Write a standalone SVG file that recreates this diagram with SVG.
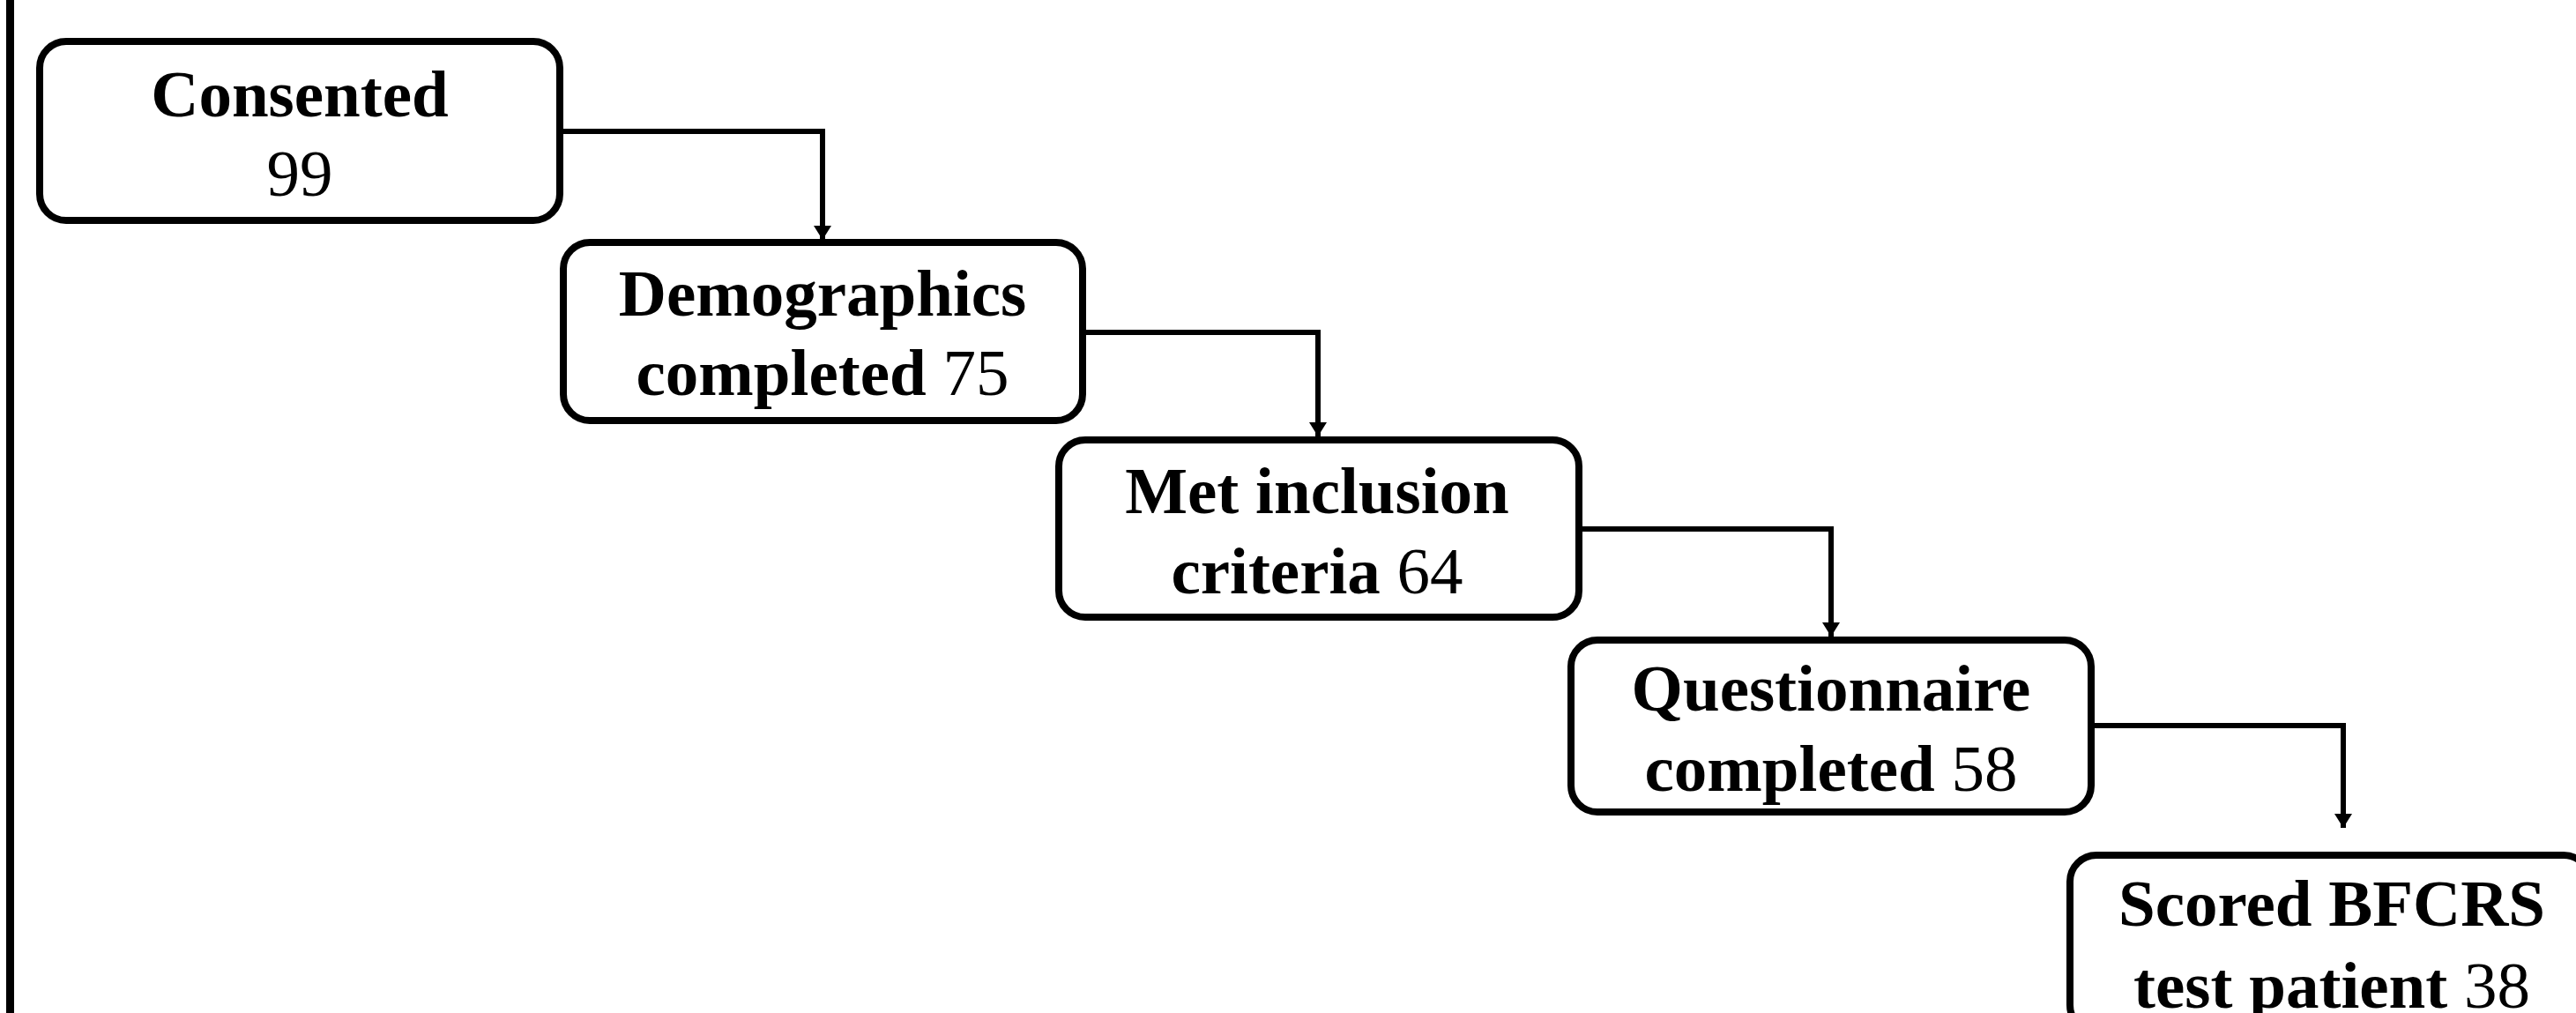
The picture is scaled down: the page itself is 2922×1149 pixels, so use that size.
<svg xmlns="http://www.w3.org/2000/svg" width="2922" height="1149" viewBox="0 0 2922 1149">
<style>
.box{fill:#fff;stroke:#000;stroke-width:8}
.t{font-family:"Liberation Serif","Times New Roman",serif;font-size:75px;text-anchor:middle;fill:#000}
.b{font-weight:bold}
.n{font-weight:normal}
.c{fill:none;stroke:#000;stroke-width:6}
</style>
<defs>
<marker id="arr" markerUnits="userSpaceOnUse" markerWidth="20" markerHeight="20" viewBox="0 0 16 20" refX="16" refY="10" orient="auto">
<path d="M0,0 L16,10 L0,20 Z" fill="#000"/>
</marker>
</defs>
<rect x="0" y="0" width="2922" height="1149" fill="#fff"/>
<line x1="11.5" y1="0" x2="11.5" y2="1149" stroke="#000" stroke-width="9"/>
<g id="connectors">
<path class="c" d="M639 149 H933 V272" marker-end="url(#arr)"/>
<path class="c" d="M1232 377 H1495 V495" marker-end="url(#arr)"/>
<path class="c" d="M1795 600 H2077 V722" marker-end="url(#arr)"/>
<path class="c" d="M2376 823 H2658 V939" marker-end="url(#arr)"/>
</g>
<g id="n1">
<rect class="box" x="45" y="47" width="590" height="203" rx="30"/>
<text class="t b" x="340" y="132">Consented</text>
<text class="t n" x="340" y="222">99</text>
</g>
<g id="n2">
<rect class="box" x="639" y="275" width="589" height="202" rx="30"/>
<text class="t b" x="933" y="358">Demographics</text>
<text class="t" x="933" y="448"><tspan class="b">completed </tspan><tspan class="n">75</tspan></text>
</g>
<g id="n3">
<rect class="box" x="1201" y="499" width="590" height="201" rx="30"/>
<text class="t b" x="1494" y="582">Met inclusion</text>
<text class="t" x="1494" y="673"><tspan class="b">criteria </tspan><tspan class="n">64</tspan></text>
</g>
<g id="n4">
<rect class="box" x="1782" y="726" width="590" height="195" rx="30"/>
<text class="t b" x="2077" y="806">Questionnaire</text>
<text class="t" x="2077" y="897"><tspan class="b">completed </tspan><tspan class="n">58</tspan></text>
</g>
<g id="n5">
<rect class="box" x="2348" y="970" width="590" height="200" rx="30"/>
<text class="t b" x="2645" y="1050">Scored BFCRS</text>
<text class="t" x="2645" y="1143"><tspan class="b">test patient </tspan><tspan class="n">38</tspan></text>
</g>
</svg>
